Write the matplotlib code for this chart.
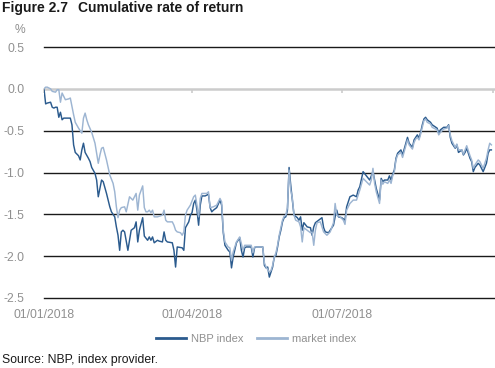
import matplotlib
matplotlib.use('Agg')
import numpy as np
import pandas as pd
import matplotlib.pyplot as plt
import matplotlib.dates as mdates
from matplotlib.ticker import FixedLocator, FormatStrFormatter
from matplotlib.lines import Line2D

plt.rcParams['font.family'] = ['Liberation Sans', 'DejaVu Sans']

start = pd.Timestamp('2018-01-01')

# days since 01/01/2018 and cumulative return (%)
nbp_days = [0, 1, 2, 4, 5, 6, 7, 8, 9, 10, 11, 12, 14, 16, 17, 18, 19, 21, 22, 23,
            24, 25, 27, 28, 29, 31, 32, 33, 34, 35, 36, 38, 40, 41, 43, 44, 45, 46, 47, 48,
            49, 51, 53, 55, 56, 57, 58, 60, 61, 63, 64, 65, 66, 67, 69, 70, 72, 73, 74, 75,
            78, 79, 80, 81, 84, 85, 86, 88, 89, 90, 91, 92, 93, 94, 95, 96, 98, 100, 101, 102,
            103, 105, 107, 108, 109, 110, 112, 113, 114, 115, 117, 119, 120, 121, 122, 123, 126, 127, 128, 129,
            133, 134, 135, 136, 137, 138, 139, 140, 141, 142, 143, 144, 145, 146, 147, 148, 149, 150, 151, 152,
            154, 155, 156, 157, 158, 160, 162, 163, 164, 165, 167, 169, 170, 171, 173, 174, 176, 177, 178, 179,
            181, 183, 184, 186, 188, 190, 191, 192, 194, 196, 198, 199, 200, 201, 202, 204, 205, 206, 207, 209,
            210, 211, 212, 213, 214, 215, 217, 218, 221, 222, 224, 225, 226, 227, 228, 229, 230, 231, 232, 233,
            235, 236, 239, 240, 241, 243, 245, 246, 247, 248, 250, 251, 252, 254, 255, 256, 257, 258, 259, 260,
            261, 262, 264, 265, 267, 269, 270, 271, 272]
nbp_vals = [0.00, -0.18, -0.17, -0.16, -0.22, -0.23, -0.22, -0.22, -0.34, -0.28, -0.37, -0.35, -0.35, -0.35, -0.43, -0.67, -0.76, -0.80, -0.85, -0.73,
            -0.65, -0.76, -0.83, -0.87, -0.94, -1.01, -1.09, -1.29, -1.19, -1.09, -1.11, -1.25, -1.41, -1.47, -1.53, -1.65, -1.75, -1.93, -1.71, -1.69,
            -1.71, -1.93, -1.69, -1.66, -1.59, -1.83, -1.69, -1.54, -1.76, -1.81, -1.77, -1.81, -1.77, -1.84, -1.81, -1.82, -1.83, -1.71, -1.81, -1.83,
            -1.84, -1.93, -2.13, -1.89, -1.90, -1.93, -1.66, -1.59, -1.51, -1.48, -1.37, -1.33, -1.45, -1.63, -1.39, -1.28, -1.28, -1.26, -1.42, -1.47,
            -1.45, -1.42, -1.33, -1.39, -1.72, -1.87, -1.93, -1.95, -2.14, -2.01, -1.84, -1.78, -1.93, -2.01, -1.90, -1.89, -1.89, -2.01, -1.90, -1.89,
            -1.89, -2.11, -2.14, -2.13, -2.25, -2.19, -2.13, -2.01, -1.99, -1.89, -1.77, -1.69, -1.59, -1.54, -1.53, -1.45, -0.94, -1.15, -1.33, -1.51,
            -1.54, -1.57, -1.53, -1.69, -1.60, -1.65, -1.66, -1.75, -1.65, -1.60, -1.57, -1.54, -1.66, -1.71, -1.72, -1.69, -1.63, -1.53, -1.45, -1.53,
            -1.54, -1.57, -1.41, -1.29, -1.27, -1.29, -1.21, -1.17, -0.99, -1.04, -1.09, -1.04, -0.99, -1.09, -1.19, -1.33, -1.07, -1.11, -1.09, -1.09,
            -1.04, -1.09, -1.02, -0.97, -0.83, -0.77, -0.73, -0.79, -0.58, -0.65, -0.70, -0.61, -0.58, -0.55, -0.59, -0.52, -0.43, -0.36, -0.34, -0.37,
            -0.40, -0.43, -0.47, -0.53, -0.49, -0.46, -0.46, -0.43, -0.58, -0.65, -0.71, -0.67, -0.76, -0.73, -0.79, -0.76, -0.71, -0.77, -0.83, -0.87,
            -0.99, -0.94, -0.89, -0.91, -0.99, -0.89, -0.77, -0.73, -0.73]

mkt_days = [0, 1, 2, 4, 5, 7, 8, 9, 10, 11, 13, 15, 16, 18, 19, 21, 22, 23, 24, 25,
            26, 27, 29, 31, 33, 34, 35, 36, 38, 40, 42, 43, 44, 45, 46, 47, 49, 50, 52, 54,
            55, 56, 57, 58, 60, 61, 62, 63, 64, 65, 66, 67, 69, 72, 73, 74, 75, 78, 79, 80,
            81, 83, 84, 85, 86, 87, 89, 91, 92, 93, 94, 95, 96, 99, 100, 101, 103, 105, 107, 108,
            109, 110, 112, 113, 114, 115, 117, 119, 121, 122, 126, 127, 128, 133, 134, 135, 137, 138, 139, 140,
            141, 142, 143, 144, 145, 146, 147, 148, 149, 150, 151, 152, 153, 155, 156, 157, 158, 160, 162, 163,
            164, 165, 166, 168, 170, 172, 174, 176, 177, 178, 180, 182, 183, 184, 186, 188, 190, 191, 192, 194,
            196, 198, 199, 200, 201, 202, 204, 205, 206, 207, 209, 210, 211, 212, 213, 214, 215, 217, 218, 221,
            222, 224, 225, 226, 227, 228, 229, 230, 231, 232, 233, 235, 236, 239, 240, 241, 243, 245, 246, 247,
            248, 250, 251, 252, 254, 255, 256, 257, 258, 259, 260, 261, 262, 264, 265, 267, 269, 270, 271, 272]
mkt_vals = [0.00, 0.02, 0.02, 0.00, -0.03, -0.04, -0.01, -0.01, -0.16, -0.05, -0.13, -0.12, -0.11, -0.31, -0.40, -0.47, -0.50, -0.53, -0.35, -0.29,
            -0.37, -0.43, -0.52, -0.65, -0.89, -0.79, -0.71, -0.70, -0.85, -1.03, -1.13, -1.23, -1.41, -1.54, -1.45, -1.42, -1.41, -1.47, -1.29, -1.33,
            -1.29, -1.25, -1.45, -1.27, -1.16, -1.42, -1.47, -1.47, -1.45, -1.48, -1.45, -1.53, -1.53, -1.51, -1.45, -1.57, -1.59, -1.59, -1.63, -1.69,
            -1.71, -1.72, -1.75, -1.71, -1.51, -1.45, -1.39, -1.29, -1.27, -1.39, -1.53, -1.31, -1.25, -1.25, -1.23, -1.42, -1.41, -1.39, -1.31, -1.35,
            -1.69, -1.83, -1.89, -1.90, -2.05, -1.95, -1.83, -1.77, -1.93, -1.87, -1.87, -1.96, -1.89, -1.89, -2.08, -2.13, -2.19, -2.17, -2.11, -2.01,
            -1.96, -1.87, -1.75, -1.66, -1.57, -1.52, -1.51, -1.42, -0.97, -1.21, -1.31, -1.51, -1.57, -1.59, -1.65, -1.83, -1.66, -1.69, -1.72, -1.71,
            -1.87, -1.69, -1.60, -1.59, -1.71, -1.75, -1.71, -1.60, -1.37, -1.51, -1.53, -1.57, -1.62, -1.45, -1.37, -1.33, -1.33, -1.27, -1.21, -1.07,
            -1.11, -1.15, -1.09, -0.95, -1.13, -1.23, -1.37, -1.09, -1.14, -1.11, -1.13, -1.09, -1.13, -1.04, -0.99, -0.85, -0.79, -0.76, -0.82, -0.61,
            -0.67, -0.72, -0.64, -0.60, -0.58, -0.61, -0.54, -0.46, -0.38, -0.36, -0.40, -0.42, -0.46, -0.49, -0.55, -0.52, -0.48, -0.47, -0.44, -0.55,
            -0.62, -0.70, -0.66, -0.73, -0.73, -0.78, -0.73, -0.68, -0.74, -0.80, -0.85, -0.95, -0.91, -0.85, -0.87, -0.95, -0.83, -0.73, -0.65, -0.67]

y_ticks = [0.5, 0.0, -0.5, -1.0, -1.5, -2.0, -2.5]
x_label_dates = ['2018-01-01', '2018-04-01', '2018-07-01']
x_axis_tick_dates = ['2018-01-01', '2018-04-01', '2018-07-01', '2018-10-01']
series_names = ['NBP index', 'market index']

def day_num(days):
    return mdates.date2num(start + pd.to_timedelta(np.asarray(days, dtype=float), unit='D'))

def date_num(dates):
    return mdates.date2num(pd.to_datetime(dates))

dark = '#2b5b8e'
light = '#9db5d2'
gray_txt = '#909090'

W, H = 495, 368
fig = plt.figure(figsize=(W / 100, H / 100), dpi=100)
ax = fig.add_axes([44 / W, 1 - 298 / H, 451 / W, 251 / H])

# horizontal grid lines (black), zero line drawn as gray axis
for yv in y_ticks:
    if yv != 0:
        ax.axhline(yv, color='#1a1a1a', lw=1.0, zorder=1, clip_on=False)

ax.plot(day_num(nbp_days), nbp_vals, color=dark, lw=1.05, zorder=3)
ax.plot(day_num(mkt_days), mkt_vals, color=light, lw=1.05, zorder=4)

ax.set_xlim(day_num([0, 274.2]))
ax.set_ylim(-2.5, 0.5)

for s in ['left', 'right', 'top']:
    ax.spines[s].set_visible(False)
ax.spines['bottom'].set_position(('data', 0))
ax.spines['bottom'].set_color('#cccccc')
ax.spines['bottom'].set_linewidth(1.8)
ax.spines['bottom'].set_zorder(2)

ax.xaxis.set_major_locator(FixedLocator(date_num(x_axis_tick_dates)))
ax.tick_params(axis='x', length=3, width=1.2, color='#cccccc', direction='out', labelbottom=False)

ax.set_yticks(y_ticks)
ax.yaxis.set_major_formatter(FormatStrFormatter('%.1f'))
ax.tick_params(axis='y', length=0, pad=14, labelsize=8.7, labelcolor=gray_txt)

sec = ax.secondary_xaxis(0)
sec.xaxis.set_major_locator(FixedLocator(date_num(x_label_dates)))
sec.xaxis.set_major_formatter(mdates.DateFormatter('%d/%m/%Y'))
sec.tick_params(length=0, pad=8, labelsize=8.7, labelcolor=gray_txt)
sec.spines['bottom'].set_visible(False)

fig.text(20 / W, 1 - 30 / H, '%', ha='center', va='center', color=gray_txt, fontsize=8.7)

fig.text(2 / W, 1 - 8 / H, 'Figure 2.7', ha='left', va='center', fontsize=10,
         fontweight='bold', color='#1a1a1a')
fig.text(78 / W, 1 - 8 / H, 'Cumulative rate of return', ha='left', va='center', fontsize=10,
         fontweight='bold', color='#1a1a1a')

handles = [Line2D([], [], color=dark, lw=2.0), Line2D([], [], color=light, lw=2.0)]
fig.legend(handles, series_names, loc='center', bbox_to_anchor=(256 / W, 1 - 339 / H), ncol=2,
           frameon=False, fontsize=8, labelcolor=gray_txt, handlelength=2.7,
           handletextpad=0.45, columnspacing=1.2, borderpad=0, borderaxespad=0)

fig.text(2 / W, 1 - 360 / H, 'Source: NBP, index provider.', ha='left', va='center',
         fontsize=8.8, color='#1a1a1a')

fig.savefig('out.png', dpi=100)
